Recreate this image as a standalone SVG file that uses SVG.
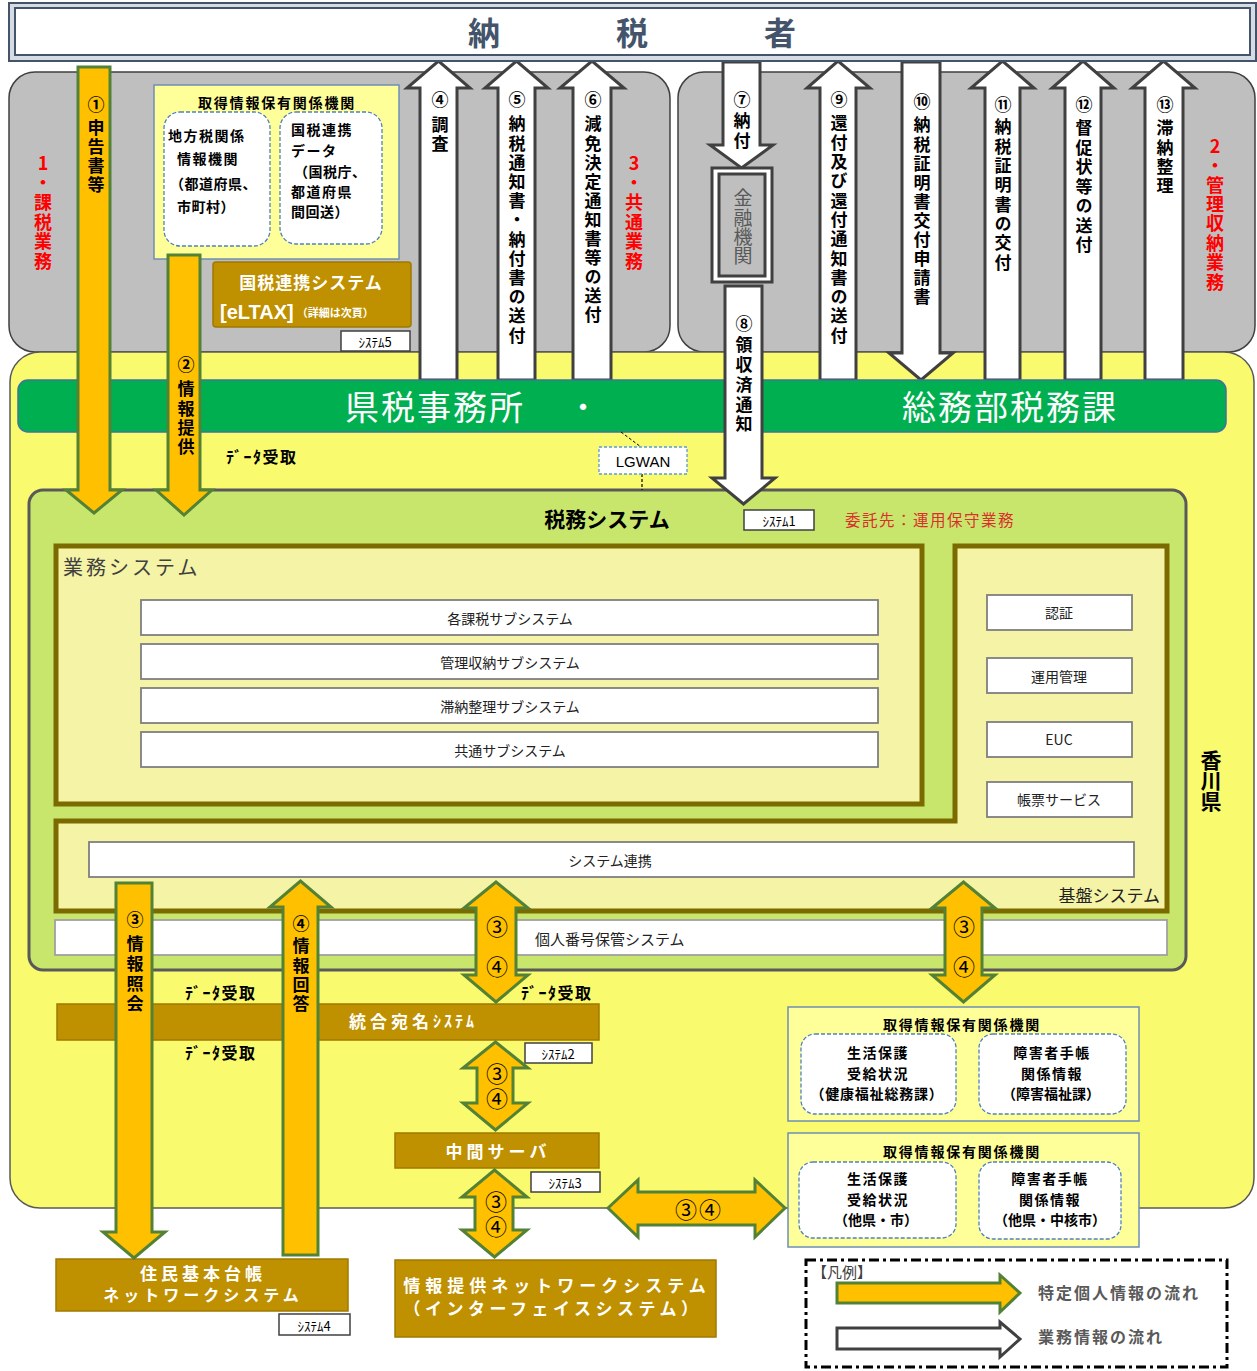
<svg xmlns="http://www.w3.org/2000/svg" width="1257" height="1371" viewBox="0 0 1257 1371">
<style>
text{font-family:"Noto Sans CJK JP","Noto Sans CJK SC",sans-serif;}
.c{text-anchor:middle;dominant-baseline:central;}
.s{dominant-baseline:central;}
.b{font-weight:bold;}
.vt{writing-mode:vertical-rl;text-orientation:upright;}
.v{font-size:17px;font-weight:bold;fill:#000;}
.vc{font-size:17px;font-weight:bold;fill:#000;text-anchor:middle;dominant-baseline:central;}
.red{font-size:18px;font-weight:bold;fill:#ff0000;}
.wa{fill:#fff;stroke:#404040;stroke-width:3;}
.oa{fill:#ffc000;stroke:#538135;stroke-width:3;}
.brown{fill:#bf9000;stroke:#a07a00;stroke-width:1.5;}
.wbox{fill:#fff;stroke:#7f7f7f;stroke-width:1.8;}
.tag{fill:#fff;stroke:#404040;stroke-width:1.5;}
.tagt{font-size:13px;fill:#000;text-anchor:middle;dominant-baseline:central;}
.org{fill:#ffff99;stroke:#6f8fb5;stroke-width:1.5;}
.dash{fill:#fff;stroke:#4f81bd;stroke-width:1.3;stroke-dasharray:4 2;}
.orgt{font-size:14px;font-weight:bold;fill:#000;}
.sub{font-size:14px;fill:#222;text-anchor:middle;dominant-baseline:central;}
.wt{fill:#fff;font-weight:bold;text-anchor:middle;dominant-baseline:central;}
.lbl{font-size:16px;font-weight:bold;fill:#000;dominant-baseline:central;letter-spacing:1.5px;}
.num{font-size:22px;fill:#000;text-anchor:middle;dominant-baseline:central;}
.numv{font-size:22px;fill:#000;}
</style>

<!-- regions -->
<g id="region-gray-left"><rect x="9" y="72" width="661" height="280" rx="26" fill="#bfbfbf" stroke="#404040" stroke-width="1.5"/></g>
<g id="region-gray-right"><rect x="678" y="72" width="577" height="280" rx="26" fill="#bfbfbf" stroke="#404040" stroke-width="1.5"/></g>
<g id="region-kagawa"><rect x="10" y="352" width="1244" height="856" rx="30" fill="#fafa6e" stroke="#595959" stroke-width="1.5"/>
<text class="vt b" x="1211" y="749.5" font-size="21" letter-spacing="-0.5">香川県</text></g>

<!-- red labels -->
<g id="label-kazei"><text class="vt red" x="43" y="154" letter-spacing="1.6">1・課税業務</text></g>
<g id="label-kyotsu"><text class="vt red" x="634" y="154" letter-spacing="1.6">3・共通業務</text></g>
<g id="label-kanri"><text class="vt red" x="1215" y="137" letter-spacing="1.4">2・管理収納業務</text></g>

<!-- left org box -->
<g id="node-org-top">
<rect class="org" x="154" y="85" width="245" height="174"/>
<text class="c b" x="277" y="102" font-size="14" letter-spacing="1.8">取得情報保有関係機関</text>
<rect class="dash" x="164" y="112" width="106" height="134" rx="16"/>
<rect class="dash" x="280" y="112" width="102" height="132" rx="16"/>
<text class="orgt s" x="168" y="135" letter-spacing="1.5">地方税関係</text>
<text class="orgt s" x="177" y="158" letter-spacing="1.5">情報機関</text>
<text class="orgt s" x="170" y="183" letter-spacing="0.5">（都道府県、</text>
<text class="orgt s" x="177" y="206" letter-spacing="0.5">市町村）</text>
<text class="orgt s" x="291" y="129" letter-spacing="1.5">国税連携</text>
<text class="orgt s" x="291" y="150" letter-spacing="1.5">データ</text>
<text class="orgt s" x="294" y="171" letter-spacing="0.5">（国税庁、</text>
<text class="orgt s" x="291" y="191" letter-spacing="1.5">都道府県</text>
<text class="orgt s" x="291" y="211" letter-spacing="0.5">間回送）</text>
</g>

<g id="node-eltax">
<rect class="brown" x="213" y="262" width="198" height="65" rx="3"/>
<text class="wt" x="311" y="281" font-size="17" letter-spacing="1">国税連携システム</text>
<text x="220" y="312" fill="#fff" font-weight="bold" dominant-baseline="central"><tspan font-family="'Liberation Sans',sans-serif" font-size="20">[eLTAX]</tspan><tspan font-size="11" dx="3">（詳細は次頁）</tspan></text>
<rect class="tag" x="341" y="331" width="69" height="20"/><text class="tagt" x="375" y="341">ｼｽﾃﾑ5</text>
</g>

<!-- white business-flow arrows -->
<g id="connectors-business">
<polygon class="wa" points="420,380 420,88 407,88 438.5,61 470,88 457,88 457,380"/>
<polygon class="wa" points="498,380 498,88 485,88 516.5,61 548,88 535,88 535,380"/>
<polygon class="wa" points="573,380 573,88 560,88 592,61 624,88 611,88 611,380"/>
<polygon class="wa" points="820,380 820,88 807,88 838,61 870,88 856,88 856,380"/>
<polygon class="wa" points="985,380 985,88 971,88 1002.5,61 1034,88 1020,88 1020,380"/>
<polygon class="wa" points="1065,380 1065,88 1052,88 1083,61 1114,88 1101,88 1101,380"/>
<polygon class="wa" points="1145,380 1145,88 1132,88 1163.5,61 1195,88 1183,88 1183,380"/>
<polygon class="wa" points="902,62 940,62 940,353 953,353 921,380 889,353 902,353"/>
<polygon class="wa" points="723,62 760,62 760,145 773,145 741.5,168 710,145 723,145"/>
</g>
<g id="labels-business">
<text class="vc" x="440" y="98">④</text><text class="vt v" x="440" y="116.5" letter-spacing="2">調査</text>
<text class="vc" x="517" y="98">⑤</text><text class="vt v" x="517" y="115.5" letter-spacing="2.2">納税通知書・納付書の送付</text>
<text class="vc" x="593" y="98">⑥</text><text class="vt v" x="593" y="115.5" letter-spacing="2.1">減免決定通知書等の送付</text>
<text class="vc" x="742" y="98">⑦</text><text class="vt v" x="742" y="112.5" letter-spacing="3">納付</text>
<text class="vc" x="839" y="98">⑨</text><text class="vt v" x="839" y="114.5" letter-spacing="2.3">還付及び還付通知書の送付</text>
<text class="vc" x="922" y="100">⑩</text><text class="vt v" x="922" y="116.5" letter-spacing="2.1">納税証明書交付申請書</text>
<text class="vc" x="1003" y="103">⑪</text><text class="vt v" x="1003" y="118.5" letter-spacing="2.3">納税証明書の交付</text>
<text class="vc" x="1084" y="103">⑫</text><text class="vt v" x="1084" y="119.5" letter-spacing="2.5">督促状等の送付</text>
<text class="vc" x="1165" y="103">⑬</text><text class="vt v" x="1165" y="119.5" letter-spacing="2.3">滞納整理</text>
</g>

<g id="node-kinyu">
<rect x="712" y="168" width="60" height="114" fill="#fff" stroke="#404040" stroke-width="3"/>
<rect x="719" y="174" width="46" height="102" fill="#bfbfbf" stroke="#404040" stroke-width="3"/>
<text class="vt" x="743" y="188.5" font-size="19" fill="#595959" letter-spacing="0.3">金融機関</text>
</g>

<!-- green bar -->
<g id="node-office">
<rect x="18" y="380" width="1208" height="52" rx="10" fill="#00b050" stroke="#41719c" stroke-width="1.5"/>
<text x="435" y="405" class="c" font-size="34" fill="#fff" letter-spacing="2">県税事務所</text>
<text x="583" y="405" class="c" font-size="30" fill="#fff">・</text>
<text x="1010" y="405" class="c" font-size="34" fill="#fff" letter-spacing="2">総務部税務課</text>
</g>

<!-- tax system -->
<g id="node-zeimu">
<rect x="29" y="490" width="1157" height="480" rx="14" fill="#c9e66c" stroke="#595959" stroke-width="3"/>
<text class="c b" x="607" y="518" font-size="21">税務システム</text>
<rect class="tag" x="744" y="510" width="70" height="20"/><text class="tagt" x="779" y="520">ｼｽﾃﾑ1</text>
<text x="845" y="519" class="s" font-size="15.5" fill="#d9302c" letter-spacing="1.5">委託先：運用保守業務</text>
</g>
<g id="node-gyomu">
<rect x="56" y="546" width="866" height="258" fill="#f5f3a5" stroke="#7a6a00" stroke-width="5"/>
<text x="63" y="566" class="s" font-size="20" fill="#404040" letter-spacing="3">業務システム</text>
<rect class="wbox" x="141" y="600" width="737" height="35"/><text class="sub" x="510" y="618">各課税サブシステム</text>
<rect class="wbox" x="141" y="644" width="737" height="35"/><text class="sub" x="510" y="662">管理収納サブシステム</text>
<rect class="wbox" x="141" y="688" width="737" height="35"/><text class="sub" x="510" y="706">滞納整理サブシステム</text>
<rect class="wbox" x="141" y="732" width="737" height="35"/><text class="sub" x="510" y="750">共通サブシステム</text>
</g>
<g id="node-kiban">
<polygon points="955,546 1167,546 1167,911 56,911 56,821 955,821" fill="#f5f3a5" stroke="#7a6a00" stroke-width="5"/>
<rect class="wbox" x="987" y="595" width="145" height="35"/><text class="sub" x="1059" y="612" font-size="15">認証</text>
<rect class="wbox" x="987" y="658" width="145" height="35"/><text class="sub" x="1059" y="676" font-size="15">運用管理</text>
<rect class="wbox" x="987" y="722" width="145" height="35"/><text class="sub" x="1059" y="739" font-size="15">EUC</text>
<rect class="wbox" x="987" y="782" width="145" height="35"/><text class="sub" x="1059" y="799" font-size="15">帳票サービス</text>
<rect class="wbox" x="89" y="842" width="1045" height="35"/><text class="sub" x="610" y="860">システム連携</text>
<text x="1160" y="894" font-size="17" fill="#222" text-anchor="end" dominant-baseline="central">基盤システム</text>
</g>
<g id="node-mynumber">
<rect x="55" y="920" width="1112" height="35" fill="#fff" stroke="#a0a0a0" stroke-width="1.8"/>
<text x="535" y="938" class="s" font-size="15" fill="#222">個人番号保管システム</text>
</g>

<g id="node-lgwan">
<line x1="621" y1="432" x2="641" y2="447" stroke="#000" stroke-width="1" stroke-dasharray="3 2"/>
<line x1="642" y1="474" x2="642" y2="490" stroke="#000" stroke-width="1.2" stroke-dasharray="3 2"/>
<rect x="599" y="447" width="88" height="27" fill="#fff" stroke="#5b9bd5" stroke-width="1.3" stroke-dasharray="3 2"/>
<text class="c" x="643" y="461" font-size="15" fill="#000" style="font-family:'Liberation Sans',sans-serif">LGWAN</text>
</g>

<g id="connector-8">
<polygon class="wa" points="725,286 762,286 762,478 775,478 743.5,504 712,478 725,478"/>
<text class="vc" x="744" y="322">⑧</text><text class="vt v" x="744" y="336.5" letter-spacing="2.75">領収済通知</text>
</g>

<!-- lower nodes -->
<g id="node-atena">
<rect class="brown" x="57" y="1004" width="542" height="36"/>
<text x="349" y="1020" fill="#fff" font-weight="bold" dominant-baseline="central"><tspan font-size="17" letter-spacing="4">統合宛名</tspan><tspan font-size="16" letter-spacing="3">ｼｽﾃﾑ</tspan></text>
<rect class="tag" x="525" y="1043" width="67" height="20"/><text class="tagt" x="558" y="1053">ｼｽﾃﾑ2</text>
</g>
<g id="node-chukan">
<rect class="brown" x="395" y="1133" width="204" height="35"/>
<text class="wt" x="498" y="1150" font-size="17" letter-spacing="4">中間サーバ</text>
<rect class="tag" x="531" y="1172" width="69" height="20"/><text class="tagt" x="565" y="1182">ｼｽﾃﾑ3</text>
</g>
<g id="node-joho">
<rect class="brown" x="395" y="1260" width="321" height="77"/>
<text class="wt" x="557" y="1284" font-size="17" letter-spacing="5">情報提供ネットワークシステム</text>
<text class="wt" x="553" y="1307" font-size="17" letter-spacing="4.5">（インターフェイスシステム）</text>
</g>
<g id="node-juki">
<rect class="brown" x="56" y="1259" width="292" height="52"/>
<text class="wt" x="203" y="1272" font-size="17" letter-spacing="4">住民基本台帳</text>
<text class="wt" x="203" y="1294" font-size="16" letter-spacing="4">ネットワークシステム</text>
<rect class="tag" x="279" y="1314" width="71" height="21"/><text class="tagt" x="314" y="1325">ｼｽﾃﾑ4</text>
</g>
<g id="node-org-hoken">
<rect class="org" x="788" y="1007" width="351" height="114"/>
<text class="c b" x="962" y="1024" font-size="14" letter-spacing="1.8">取得情報保有関係機関</text>
<rect class="dash" x="801" y="1034" width="155" height="80" rx="14"/>
<rect class="dash" x="979" y="1034" width="147" height="80" rx="14"/>
<text class="orgt c" x="878" y="1052" letter-spacing="1.5">生活保護</text>
<text class="orgt c" x="878" y="1073" letter-spacing="1.5">受給状況</text>
<text class="orgt c" x="877" y="1093" font-size="11" letter-spacing="0.8">（健康福祉総務課）</text>
<text class="orgt c" x="1052" y="1052" letter-spacing="1.5">障害者手帳</text>
<text class="orgt c" x="1052" y="1073" letter-spacing="1.5">関係情報</text>
<text class="orgt c" x="1051" y="1093">（障害福祉課）</text>
</g>
<g id="node-org-other">
<rect class="org" x="788" y="1133" width="351" height="114"/>
<text class="c b" x="962" y="1151" font-size="14" letter-spacing="1.8">取得情報保有関係機関</text>
<rect class="dash" x="799" y="1162" width="157" height="76" rx="14"/>
<rect class="dash" x="979" y="1162" width="142" height="77" rx="14"/>
<text class="orgt c" x="878" y="1178" letter-spacing="1.5">生活保護</text>
<text class="orgt c" x="878" y="1199" letter-spacing="1.5">受給状況</text>
<text class="orgt c" x="876" y="1219">（他県・市）</text>
<text class="orgt c" x="1050" y="1178" letter-spacing="1.5">障害者手帳</text>
<text class="orgt c" x="1050" y="1199" letter-spacing="1.5">関係情報</text>
<text class="orgt c" x="1050" y="1219" font-size="11.5">（他県・中核市）</text>
</g>

<!-- data receive labels -->
<g id="labels-data">
<text class="lbl" x="226" y="456">ﾃﾞｰﾀ受取</text>
<text class="lbl" x="185" y="992">ﾃﾞｰﾀ受取</text>
<text class="lbl" x="185" y="1052">ﾃﾞｰﾀ受取</text>
<text class="lbl" x="521" y="992">ﾃﾞｰﾀ受取</text>
</g>

<!-- personal info arrows -->
<g id="connectors-personal">
<polygon class="oa" points="78,67 110,67 110,490 122,490 94,513 66,490 78,490"/>
<polygon class="oa" points="168,255 200,255 200,490 212,490 184,515 156,490 168,490"/>
<polygon class="oa" points="116,883 152,883 152,1232 165,1232 134,1258 103,1232 116,1232"/>
<polygon class="oa" points="283,1255 283,907 270,907 300.5,881 331,907 318,907 318,1255"/>
<polygon class="oa" points="496,882 528,908 516,908 516,975 528,975 496,1002 464,975 476,975 476,908 464,908"/>
<polygon class="oa" points="963.5,882 995,908 982,908 982,975 995,975 963.5,1002 932,975 945,975 945,908 932,908"/>
<polygon class="oa" points="495.5,1042 528,1068 513,1068 513,1103 528,1103 495.5,1130 463,1103 477,1103 477,1068 463,1068"/>
<polygon class="oa" points="494.5,1170 527,1197 513,1197 513,1230 527,1230 494.5,1257 462,1230 475,1230 475,1197 462,1197"/>
<polygon class="oa" points="608,1208 638,1180 638,1192 755,1192 755,1180 785,1208 755,1237 755,1225 638,1225 638,1237"/>
</g>
<g id="labels-personal">
<text class="vc" x="96" y="103">①</text><text class="vt v" x="96" y="119.5" letter-spacing="2">申告書等</text>
<text class="vc" x="186" y="363">②</text><text class="vt v" x="186" y="380.5" letter-spacing="2.3">情報提供</text>
<text class="vc" x="135" y="918">③</text><text class="vt v" x="135" y="935.5" letter-spacing="2.7">情報照会</text>
<text class="vc" x="301" y="922">④</text><text class="vt v" x="301" y="937.5" letter-spacing="2.3">情報回答</text>
<text class="num" x="497" y="925">③</text><text class="num" x="497" y="965">④</text>
<text class="num" x="964" y="925">③</text><text class="num" x="964" y="965">④</text>
<text class="vt numv" x="497" y="1063" letter-spacing="3">③④</text>
<text class="vt numv" x="496" y="1191" letter-spacing="3">③④</text>
<text class="num" x="699" y="1208" letter-spacing="2">③④</text>
</g>

<!-- taxpayer -->
<g id="node-taxpayer">
<rect x="9" y="3" width="1247" height="58" fill="#d6dce4" stroke="#44546a" stroke-width="2"/>
<rect x="15" y="8" width="1235" height="47" fill="#fff" stroke="#44546a" stroke-width="2"/>
<text class="c b" x="484" y="31" font-size="32" fill="#44546a">納</text>
<text class="c b" x="632" y="31" font-size="32" fill="#44546a">税</text>
<text class="c b" x="780" y="31" font-size="32" fill="#44546a">者</text>
</g>

<!-- legend -->
<g id="legend">
<rect x="806" y="1260" width="421" height="107" fill="#fff" stroke="#000" stroke-width="3" stroke-dasharray="10 4 3 4"/>
<text x="812" y="1271" class="s" font-size="15" fill="#404040">【凡例】</text>
<polygon class="oa" points="837,1283 1000,1283 1000,1275 1020,1293 1000,1312 1000,1303 837,1303"/>
<polygon class="wa" points="837,1328 1000,1328 1000,1322 1020,1339 1000,1357 1000,1349 837,1349"/>
<text x="1038" y="1292" class="s b" font-size="16" fill="#595959" letter-spacing="2">特定個人情報の流れ</text>
<text x="1038" y="1336" class="s b" font-size="16" fill="#595959" letter-spacing="2">業務情報の流れ</text>
</g>
</svg>
